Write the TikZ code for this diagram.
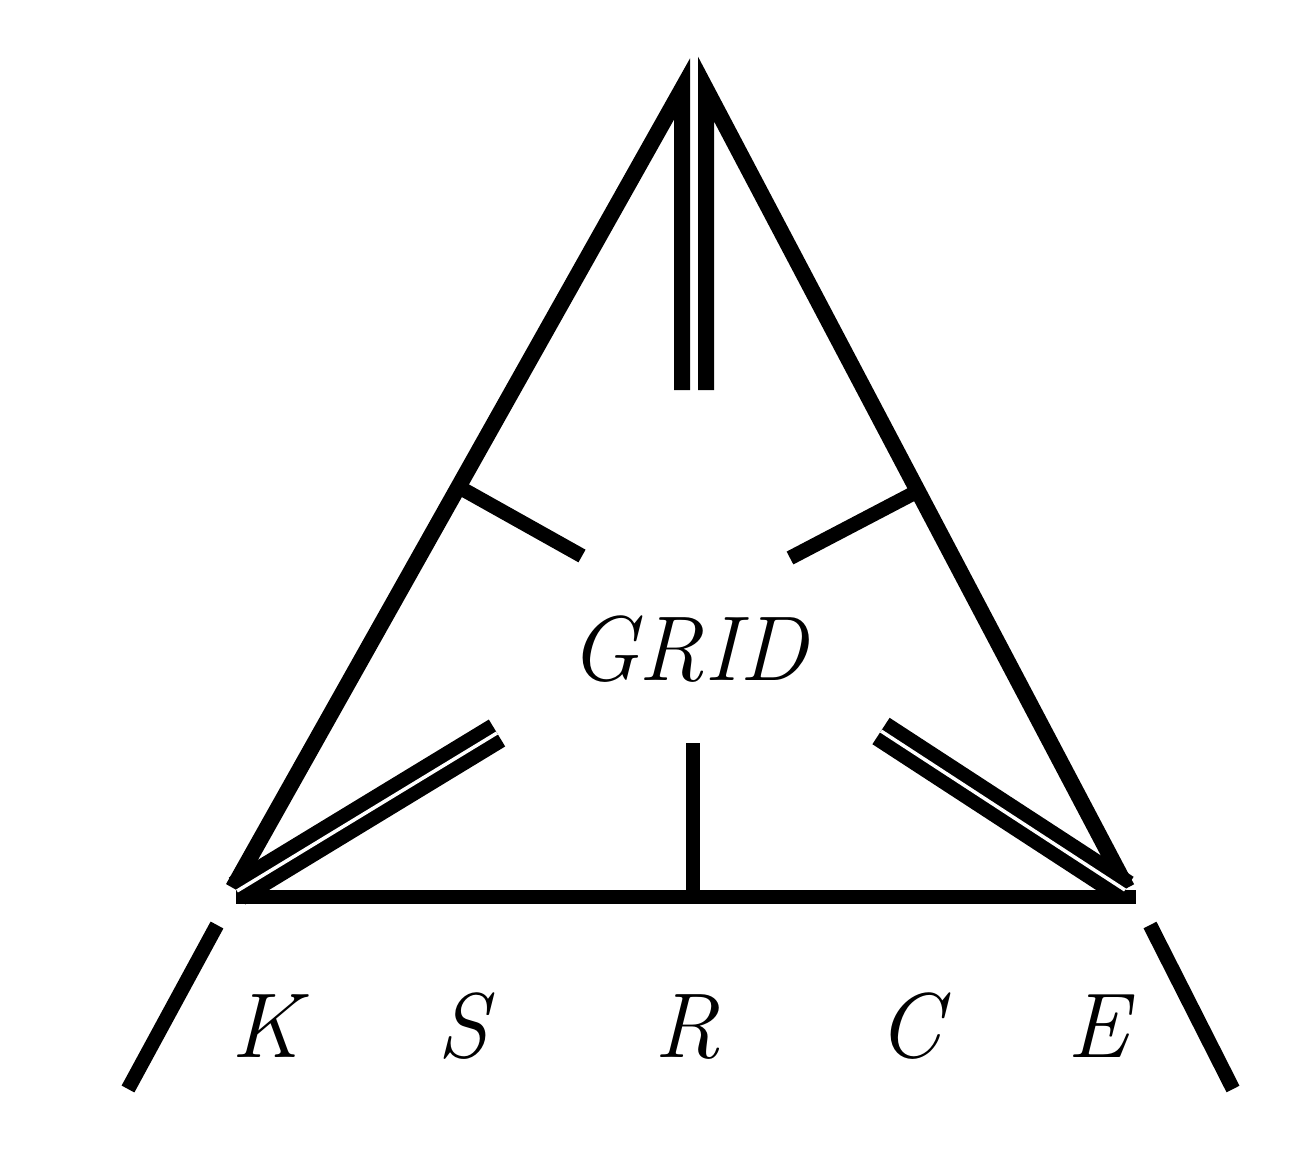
\documentclass[tikz,border=0pt]{standalone}
\begin{document}
\begin{tikzpicture}[x=1pt,y=-1pt,line cap=butt,line join=miter,
  stroke/.style={line width=16pt},
  thin stroke/.style={line width=14.5pt},
  dbl/.style={double=white,double distance=3.5pt,line width=14pt},
  lbl/.style={font=\fontsize{92}{92}\selectfont\itshape,anchor=base,inner sep=0pt}]
\useasboundingbox (0,0) rectangle (1292,1156);
% key points
\coordinate (lbar) at (682,390);
\coordinate (ltop) at (682,89);
\coordinate (lcorner) at (233,888);
\coordinate (rbar) at (706,390);
\coordinate (rtop) at (706,89);
\coordinate (rcorner) at (1127,888);
\coordinate (bl) at (236,897);
\coordinate (br) at (1136,897);
% ticks
\coordinate (ltfoot) at (457,486);
\coordinate (ltend) at (582,556);
\coordinate (rtfoot) at (918,491);
\coordinate (rtend) at (790,558);
\coordinate (mtfoot) at (693,897);
\coordinate (mtend) at (693,743);
% double lines
\coordinate (dlc) at (237,891);
\coordinate (dle) at (497,733);
\coordinate (drc) at (1125,890);
\coordinate (dre) at (881,731);
% slashes
\coordinate (sl1) at (217,925);
\coordinate (sl2) at (128,1089);
\coordinate (sr1) at (1150,925);
\coordinate (sr2) at (1233,1089);

\draw[stroke] (lbar) -- (ltop) -- (lcorner);
\draw[stroke] (rbar) -- (rtop) -- (rcorner);
\draw[thin stroke] (bl) -- (br);
\draw[thin stroke] (ltfoot) -- (ltend);
\draw[thin stroke] (rtfoot) -- (rtend);
\draw[thin stroke] (mtfoot) -- (mtend);
\draw[dbl] (dlc) -- (dle);
\draw[dbl] (drc) -- (dre);
\draw[thin stroke] (sl1) -- (sl2);
\draw[thin stroke] (sr1) -- (sr2);

\node[lbl] (grid) at (688,680) {GRID};
\node[lbl] (K) at (266,1057) {K};
\node[lbl] (S) at (463,1057) {S};
\node[lbl] (R) at (687,1057) {R};
\node[lbl] (C) at (910,1057) {C};
\node[lbl] (E) at (1098,1057) {E};
\end{tikzpicture}
\end{document}
